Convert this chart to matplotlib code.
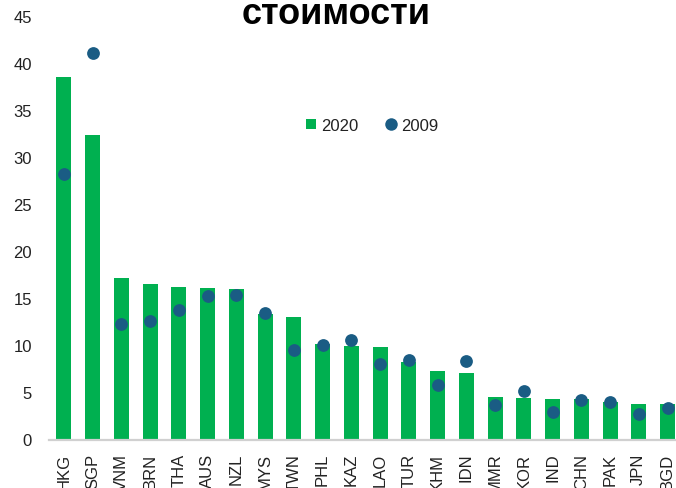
import matplotlib
matplotlib.use("Agg")
import matplotlib.pyplot as plt
from matplotlib.lines import Line2D

categories = ["HKG", "SGP", "VNM", "BRN", "THA", "AUS", "NZL", "MYS", "TWN", "PHL", "KAZ",
              "LAO", "TUR", "KHM", "IDN", "MMR", "KOR", "IND", "CHN", "PAK", "JPN", "BGD"]
values_2020 = [38.5, 32.4, 17.2, 16.5, 16.2, 16.1, 16.0, 13.35, 13.0, 10.15, 9.95,
               9.8, 8.25, 7.3, 7.1, 4.5, 4.4, 4.35, 4.27, 4.02, 3.81, 3.78]
values_2009 = [28.2, 41.1, 12.3, 12.65, 13.8, 15.25, 15.35, 13.45, 9.5, 10.0, 10.6,
               8.05, 8.45, 5.8, 8.3, 3.65, 5.2, 2.95, 4.17, 4.0, 2.75, 3.32]
yticks = [0, 5, 10, 15, 20, 25, 30, 35, 40, 45]
title_text = "стоимости"

GREEN = "#00B050"
BLUE = "#1A5C84"

plt.rcParams['font.family'] = ['Liberation Sans', 'DejaVu Sans']

fig = plt.figure(figsize=(6.76, 4.89), dpi=100)
ax = fig.add_axes([49.4 / 676, 48.5 / 489, (681.9 - 49.4) / 676, (440.5 - 17.3) / 489])

x = list(range(len(categories)))
ax.bar(x, values_2020, width=0.52, color=GREEN, zorder=2)
ax.plot(x, values_2009, linestyle='none', marker='o', markersize=9.2,
        color=BLUE, markeredgewidth=0, zorder=3)

ax.set_xlim(-0.5, len(categories) - 0.5)
ax.set_ylim(0, 45)
ax.set_yticks(yticks)
ax.set_yticklabels([str(v) for v in yticks])
ax.set_xticks(x)
ax.set_xticklabels(categories, rotation=90, va='top', ha='center')

for s in ['top', 'right', 'left']:
    ax.spines[s].set_visible(False)
ax.spines['bottom'].set_color('#D0D0D0')
ax.spines['bottom'].set_linewidth(1.6)
ax.spines['bottom'].set_zorder(4)

ax.tick_params(axis='y', length=0, pad=12.5, labelsize=12, labelcolor='#222222')
ax.tick_params(axis='x', length=0, pad=9.5, labelsize=12, labelcolor='#222222')

handles = [Line2D([], [], linestyle='none', marker='s', markersize=7.8, color=GREEN, markeredgewidth=0),
           Line2D([], [], linestyle='none', marker='o', markersize=9, color=BLUE, markeredgewidth=0)]
fig.legend(handles, ["2020", "2009"], loc='center', bbox_to_anchor=(372 / 676, (489 - 126.5) / 489),
           ncol=2, frameon=False, fontsize=12, handlelength=0.7, handletextpad=0.25,
           columnspacing=1.6, borderpad=0, labelcolor='#222222')

fig.text(336.5 / 676, (489 - 24) / 489, title_text, ha='center', va='baseline',
         fontsize=26, fontweight='bold', color='black')

fig.savefig("out.png", dpi=100)
